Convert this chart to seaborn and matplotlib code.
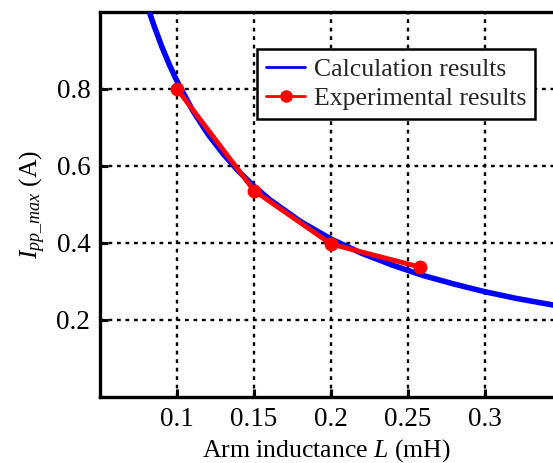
import matplotlib
matplotlib.use("Agg")
import matplotlib.pyplot as plt
import seaborn as sns
import pandas as pd
from matplotlib.lines import Line2D

# Data
calc_L = [0.0825, 0.085, 0.09, 0.095, 0.10, 0.11, 0.12, 0.13, 0.14, 0.15, 0.16,
          0.18, 0.20, 0.22, 0.24, 0.26, 0.28, 0.30, 0.32, 0.345]
calc_I = [0.994, 0.965, 0.911, 0.863, 0.820, 0.745, 0.683, 0.631, 0.586, 0.547,
          0.513, 0.456, 0.410, 0.373, 0.342, 0.315, 0.293, 0.273, 0.256, 0.238]
exp_L = [0.10, 0.15, 0.20, 0.258]
exp_I = [0.800, 0.536, 0.397, 0.337]
x_ticks = [0.1, 0.15, 0.2, 0.25, 0.3]
x_tick_labels = ["0.1", "0.15", "0.2", "0.25", "0.3"]
y_ticks = [0.2, 0.4, 0.6, 0.8]
y_tick_labels = ["0.2", "0.4", "0.6", "0.8"]

sns.set_theme(style="white")
plt.rcParams['font.family'] = ['Liberation Serif', 'DejaVu Serif']
plt.rcParams['mathtext.fontset'] = 'custom'
plt.rcParams['mathtext.rm'] = 'Liberation Serif'
plt.rcParams['mathtext.it'] = 'Liberation Serif:italic'

calc_df = pd.DataFrame({"L": calc_L, "I": calc_I})
exp_df = pd.DataFrame({"L": exp_L, "I": exp_I})

fig = plt.figure(figsize=(5.53, 4.63), dpi=100)
ax = fig.add_axes([0.181, 0.143, 0.819, 0.831])

sns.lineplot(data=calc_df, x="L", y="I", ax=ax, color="#0000ff", linewidth=4,
             sort=False, estimator=None, zorder=3)
sns.lineplot(data=exp_df, x="L", y="I", ax=ax, color="#ff0000", linewidth=3.5,
             marker="o", markersize=10, markeredgewidth=0, sort=False,
             estimator=None, zorder=4)

ax.set_xlim(0.05, 0.3442)
ax.set_ylim(0.0, 1.0)
ax.set_xticks(x_ticks)
ax.set_xticklabels(x_tick_labels)
ax.set_yticks(y_ticks)
ax.set_yticklabels(y_tick_labels)

ax.grid(True, color="black", linestyle=(0, (1.6, 2.0)), linewidth=1.7)
ax.set_axisbelow(True)

for side in ["left", "top", "bottom"]:
    ax.spines[side].set_color("black")
    ax.spines[side].set_linewidth(2.4)
ax.spines["right"].set_visible(False)

ax.tick_params(direction="in", length=6, width=2.2, labelsize=19.5, colors="black",
               pad=7, left=True, bottom=True)

ax.set_xlabel("Arm inductance $\\mathit{L}$ (mH)", fontsize=18.5, color="black", labelpad=4)
ax.set_ylabel("$\\mathit{I}_{\\mathit{pp\\_max}}$ (A)", fontsize=18.5, color="black", labelpad=6)

handles = [Line2D([0], [0], color="#0000ff", linewidth=2),
           Line2D([0], [0], color="#ff0000", linewidth=2, marker="o", markersize=8)]
leg = ax.legend(handles, ["Calculation results", "Experimental results"],
                loc="upper left", bbox_to_anchor=(0.347, 0.904), fontsize=18.5,
                frameon=True, fancybox=False, framealpha=1, edgecolor="black",
                borderpad=0.35, labelspacing=0.25, handlelength=1.5,
                handletextpad=0.35, borderaxespad=0)
leg.get_frame().set_linewidth(1.8)

fig.savefig("out.png", dpi=100)
